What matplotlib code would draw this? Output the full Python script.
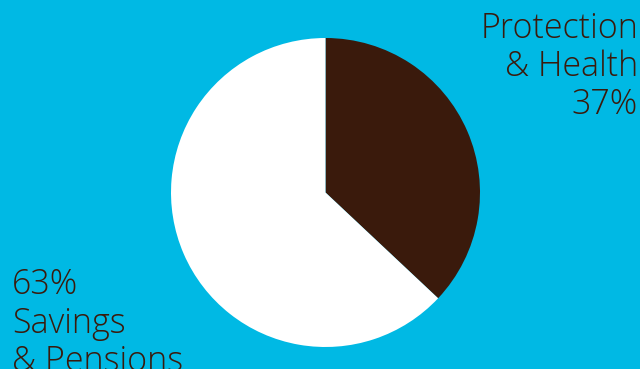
import matplotlib.pyplot as plt

# data
labels = ['Protection\n& Health\n37%', '63%\nSavings\n& Pensions']
shares = [37, 63]
colors = ['#3a1a0c', '#ffffff']
bg = '#00b9e4'
txt = '#3a1a0c'

fig = plt.figure(figsize=(6.4, 3.69), dpi=100)
fig.patch.set_facecolor(bg)
ax = fig.add_axes([0, 0, 1, 1])
ax.set_facecolor(bg)

ax.pie(shares, colors=colors, startangle=90, counterclock=False,
       center=(325.5, 176.5), radius=154.5, frame=True,
       wedgeprops=dict(linewidth=0))
ax.set_xlim(0, 640)
ax.set_ylim(0, 369)
ax.set_aspect('equal')
ax.axis('off')

fnt = dict(family='Open Sans', weight='light', fontsize=24.5, color=txt, linespacing=1.15)
ax.text(638, 369 - 11, labels[0], ha='right', va='top', multialignment='right', **fnt)
ax.text(12, 369 - 268, labels[1], ha='left', va='top', multialignment='left', **fnt)

fig.savefig('out.png', dpi=100, facecolor=bg)
